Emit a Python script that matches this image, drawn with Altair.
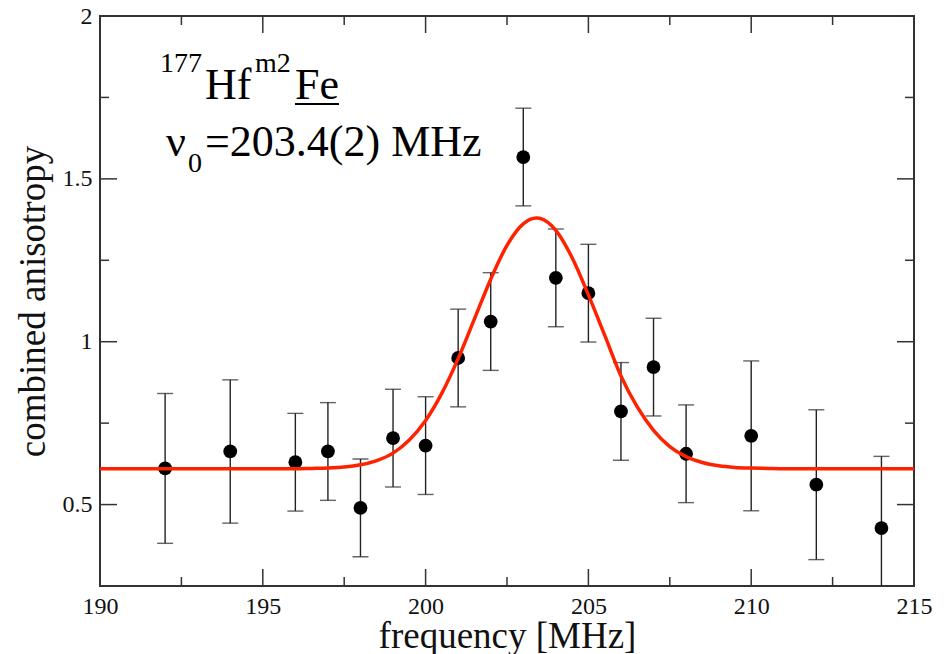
import altair as alt
import pandas as pd

# ---- data ----
freq = [192, 194, 196, 197, 198, 199, 200, 201, 202, 203, 204, 205, 206, 207, 208, 210, 212, 214]
anis = [0.611, 0.663, 0.630, 0.663, 0.490, 0.704, 0.681, 0.950, 1.062, 1.567, 1.196, 1.149,
        0.786, 0.922, 0.656, 0.711, 0.561, 0.428]
err = [0.23, 0.22, 0.15, 0.15, 0.15, 0.15, 0.15, 0.15, 0.15, 0.15, 0.15, 0.15,
       0.15, 0.15, 0.15, 0.23, 0.23, 0.22]

fit_x = [190, 191, 192, 193, 194, 195, 196, 196.5, 197, 197.5, 198, 198.5, 199, 199.5, 200,
         200.5, 201, 201.5, 202, 202.5, 203, 203.4, 203.5, 204, 204.5, 205, 205.5, 206, 206.5,
         207, 207.5, 208, 208.5, 209, 209.5, 210, 210.5, 211, 212, 213, 214, 215]
fit_y = [0.61, 0.61, 0.61, 0.61, 0.61, 0.61, 0.61, 0.611, 0.612, 0.615, 0.622, 0.635, 0.658,
         0.698, 0.758, 0.842, 0.948, 1.070, 1.192, 1.296, 1.362, 1.380, 1.379, 1.342, 1.258,
         1.144, 1.020, 0.895, 0.800, 0.728, 0.678, 0.647, 0.629, 0.619, 0.614, 0.612, 0.611,
         0.61, 0.61, 0.61, 0.61, 0.61]

x_major = [190, 195, 200, 205, 210, 215]
x_minor = [192.5, 197.5, 202.5, 207.5, 212.5]
y_major = [0.5, 1.0, 1.5, 2.0]
y_minor = [0.75, 1.25, 1.75]

W, H = 814, 570
FONT = "Liberation Serif, Times New Roman, serif"

pts = pd.DataFrame({"f": freq, "a": anis, "e": err})
pts["lo"] = pts["a"] - pts["e"]
pts["hi"] = pts["a"] + pts["e"]
fit = pd.DataFrame({"f": fit_x, "a": fit_y})

xs = alt.Scale(domain=[190, 215], nice=False, zero=False)
ys = alt.Scale(domain=[0.25, 2], nice=False, zero=False)

x_axis = alt.Axis(values=x_major, format="~g", ticks=False, domain=False, grid=False,
                  labelFont=FONT, labelFontSize=24, labelColor="#111", labelPadding=8,
                  labelFlush=False, labelOverlap=False, title="frequency [MHz]", titleFont=FONT,
                  titleFontSize=37, titleFontWeight="normal", titleColor="#111",
                  titleBaseline="alphabetic", titleY=61)
y_axis = alt.Axis(values=y_major, format="~g", ticks=False, domain=False, grid=False,
                  labelFont=FONT, labelFontSize=24, labelColor="#111", labelPadding=8,
                  labelFlush=False, labelOverlap=False, title="combined anisotropy",
                  titleFont=FONT, titleFontSize=37, titleFontWeight="normal", titleColor="#111",
                  titleBaseline="alphabetic", titleX=-56, titleY=H / 2, titleAngle=270)

bars = alt.Chart(pts).mark_rule(color="#222", strokeWidth=1.4, clip=True).encode(
    x=alt.X("f:Q", scale=xs, axis=x_axis),
    y=alt.Y("lo:Q", scale=ys, axis=y_axis),
    y2="hi:Q",
)
cap_lo = alt.Chart(pts).mark_tick(color="#222", thickness=1.4, size=16, orient="horizontal",
                                  clip=True).encode(
    x=alt.X("f:Q", scale=xs), y=alt.Y("lo:Q", scale=ys))
cap_hi = alt.Chart(pts).mark_tick(color="#222", thickness=1.4, size=16, orient="horizontal",
                                  clip=True).encode(
    x=alt.X("f:Q", scale=xs), y=alt.Y("hi:Q", scale=ys))
dots = alt.Chart(pts).mark_point(filled=True, shape="circle", size=190, color="black",
                                 opacity=1).encode(
    x=alt.X("f:Q", scale=xs), y=alt.Y("a:Q", scale=ys))
curve = alt.Chart(fit).mark_line(color="#ff2200", strokeWidth=3.5, interpolate="monotone",
                                 clip=True).encode(
    x=alt.X("f:Q", scale=xs), y=alt.Y("a:Q", scale=ys))

tick_col = "#333"
def xticks(vals, y0, y1):
    return alt.Chart(pd.DataFrame({"v": vals})).mark_rule(color=tick_col, strokeWidth=1.5).encode(
        x=alt.X("v:Q", scale=xs), y=alt.value(y0), y2=alt.value(y1))

def yticks(vals, x0, x1):
    return alt.Chart(pd.DataFrame({"v": vals})).mark_rule(color=tick_col, strokeWidth=1.5).encode(
        y=alt.Y("v:Q", scale=ys), x=alt.value(x0), x2=alt.value(x1))

ticks = [
    xticks(x_major, H, H - 17), xticks(x_minor, H, H - 9),
    xticks(x_major, 0, 17), xticks(x_minor, 0, 9),
    yticks(y_major, 0, 17), yticks(y_minor, 0, 9),
    yticks(y_major, W, W - 17), yticks(y_minor, W, W - 9),
]

def label(text, xv, yv, size):
    return alt.Chart(pd.DataFrame({"t": [text]})).mark_text(
        align="left", baseline="alphabetic", font=FONT, fontSize=size, color="black").encode(
        x=alt.datum(xv, scale=xs), y=alt.datum(yv, scale=ys), text="t:N")

texts = [
    label("177", 191.843, 1.8281, 28),
    label("Hf", 193.225, 1.7452, 44),
    label("m2", 194.760, 1.8281, 28),
    label("Fe", 195.989, 1.7452, 44),
    label("ν", 192.027, 1.5702, 44),
    label("0", 192.703, 1.5210, 28),
    label("=203.4(2) MHz", 193.225, 1.5702, 44),
]
underline = alt.Chart(pd.DataFrame({"t": [0]})).mark_rule(color="black", strokeWidth=2).encode(
    x=alt.datum(195.989, scale=xs), x2=alt.datum(197.34), y=alt.datum(1.7298, scale=ys))

chart = alt.layer(bars, cap_lo, cap_hi, dots, curve, *ticks, *texts, underline).properties(
    width=W, height=H,
    padding={"left": 100, "top": 16, "right": 34, "bottom": 68},
    autosize=alt.AutoSizeParams(type="none"),
    background="white",
).configure_view(stroke="#333", strokeWidth=2)

chart.save("out.html", embed_options={"renderer": "svg", "actions": False})
